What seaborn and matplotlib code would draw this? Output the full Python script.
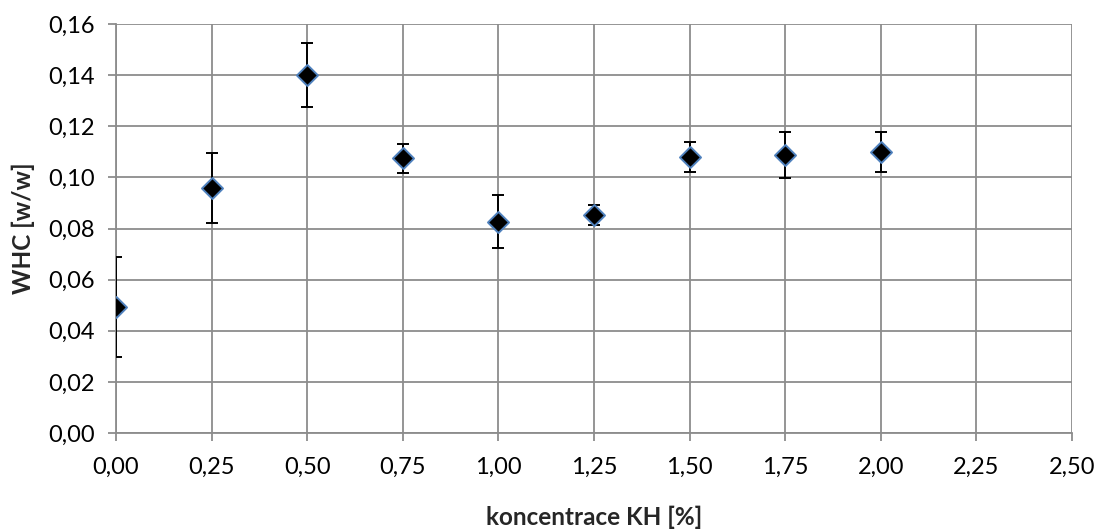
import matplotlib
matplotlib.use("Agg")
import matplotlib.pyplot as plt
import seaborn as sns
import pandas as pd
from matplotlib.ticker import FuncFormatter, MultipleLocator

conc = [0.00, 0.25, 0.50, 0.75, 1.00, 1.25, 1.50, 1.75, 2.00]
whc = [0.0492, 0.0958, 0.1400, 0.1075, 0.0827, 0.0853, 0.1079, 0.1088, 0.1100]
err = [0.0196, 0.0137, 0.0124, 0.0057, 0.0105, 0.0040, 0.0058, 0.0091, 0.0078]

df = pd.DataFrame({"conc": conc, "whc": whc, "err": err})

sns.set_theme(style="white")
plt.rcParams['font.family'] = ['Lato', 'DejaVu Sans']

fig = plt.figure(figsize=(10.98, 5.30), dpi=100)
ax = fig.add_axes([116/1098, 1-433/530, (1072-116)/1098, (433-24)/530])

ax.errorbar(df["conc"], df["whc"], yerr=df["err"], fmt="none", ecolor="black",
            elinewidth=1.4, capsize=4.5, capthick=1.4, zorder=3)
sns.scatterplot(data=df, x="conc", y="whc", marker="D", s=115, color="black",
                edgecolor="#4F81BD", linewidth=1.4, ax=ax, zorder=4)

ax.set_xlim(0, 2.5)
ax.set_ylim(0, 0.16)
ax.xaxis.set_major_locator(MultipleLocator(0.25))
ax.yaxis.set_major_locator(MultipleLocator(0.02))
fmt = FuncFormatter(lambda v, p: f"{v:.2f}".replace(".", ","))
ax.xaxis.set_major_formatter(fmt)
ax.yaxis.set_major_formatter(fmt)

ax.grid(True, color="#8c8c8c", linewidth=1.3)
ax.set_axisbelow(True)
for s in ["top", "right"]:
    ax.spines[s].set_visible(False)
for s in ["left", "bottom"]:
    ax.spines[s].set_color("#8c8c8c")
    ax.spines[s].set_linewidth(1.3)
ax.tick_params(axis="both", which="major", direction="out", length=6, width=1.3,
               color="#8c8c8c", labelsize=17, labelcolor="black", pad=9,
               left=True, bottom=True)
ax.tick_params(axis="x", pad=11)

ax.set_xlabel("koncentrace KH [%]", fontsize=17.5, fontweight="bold", labelpad=20)
ax.set_ylabel("WHC [w/w]", fontsize=17.5, fontweight="bold", labelpad=10)

fig.savefig("out.png", dpi=100)
